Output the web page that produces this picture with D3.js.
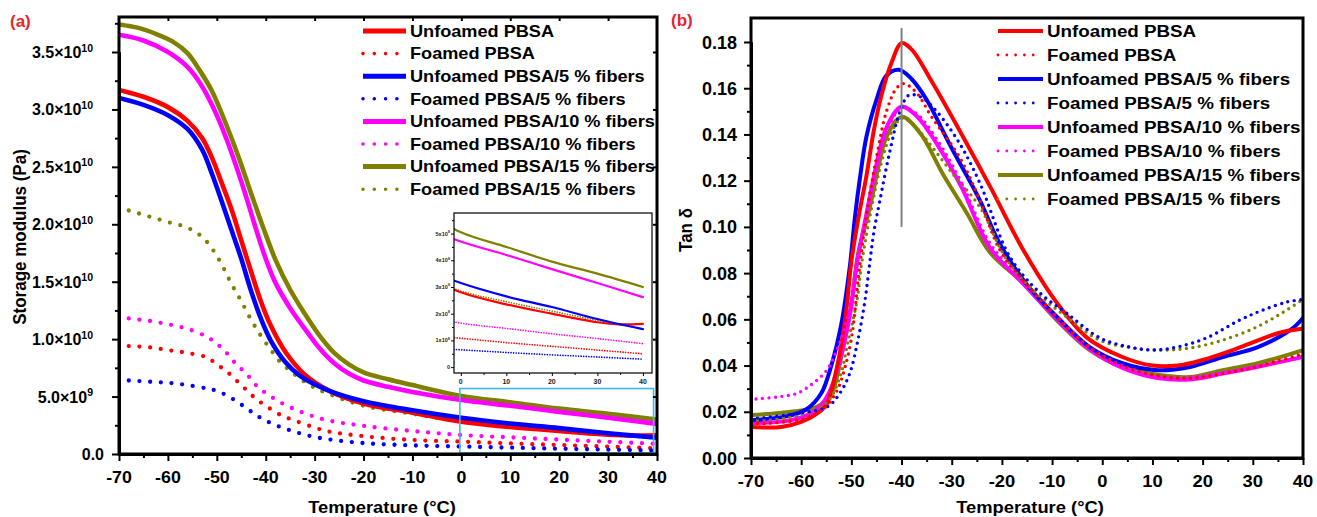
<!DOCTYPE html>
<html><head><meta charset="utf-8">
<script src="https://cdn.jsdelivr.net/npm/d3@7"></script>
<style>
body{margin:0;background:#fff}
svg{display:block}
text{font-family:"Liberation Sans",Arial,sans-serif;font-weight:bold;fill:#000}
</style>
</head><body>
<svg id="c" width="1317" height="517"></svg>
<script>
// ---------- shared series info ----------
const seriesNames = ["Unfoamed PBSA","Foamed PBSA","Unfoamed PBSA/5 % fibers","Foamed PBSA/5 % fibers",
  "Unfoamed PBSA/10 % fibers","Foamed PBSA/10 % fibers","Unfoamed PBSA/15 % fibers","Foamed PBSA/15 % fibers"];
const seriesColors = ["#ff0000","#ff0000","#0000ff","#0000ff","#ff00ff","#ff00ff","#808000","#808000"];
const seriesDotted = [false,true,false,true,false,true,false,true];

// ---------- panel (a): storage modulus, in units of 1e9 Pa ----------
const aT_unf   = [-70,-65,-60,-56,-53,-51,-49,-47,-45,-43,-41,-39,-36,-32,-27,-20,-10,0,10,20,30,35,40];
const aE_unf   = [31.7,31.1,30.2,29.0,27.5,25.8,23.6,21.3,18.6,15.9,13.3,11.2,8.9,6.9,5.5,4.4,3.6,2.8,2.35,2.0,1.68,1.6,1.62];
const aT_foam  = [-68,-64,-60,-56,-52,-50,-48,-46,-44,-42,-40,-37,-34,-30,-27,-20,-10,0,10,20,30,40];
const aE_foam  = [9.4,9.3,9.05,8.8,8.4,7.8,7.2,6.4,5.6,4.8,4.2,3.4,2.9,2.3,1.95,1.55,1.22,1.08,0.92,0.78,0.64,0.5];
const aT_unf5  = [-70,-65,-60,-56,-53,-51,-49,-47,-45,-43,-41,-39,-36,-33,-27,-20,-10,0,10,20,30,40];
const aE_unf5  = [31.0,30.4,29.5,28.3,26.5,24.4,22.0,19.5,17.0,14.2,11.8,9.9,8.0,6.8,5.5,4.6,3.8,3.15,2.65,2.25,1.8,1.42];
const aT_foam5 = [-68,-64,-60,-56,-52,-50,-48,-46,-44,-42,-40,-37,-33,-29,-20,-10,0,10,20,30,40];
const aE_foam5 = [6.4,6.3,6.2,6.0,5.7,5.5,5.1,4.6,4.0,3.4,2.9,2.35,1.8,1.4,0.95,0.75,0.65,0.55,0.46,0.38,0.3];
const aT_unf10 = [-70,-65,-60,-56,-53,-50,-48,-46,-44,-42,-40,-38,-35,-32,-29,-26,-23,-20,-15,-10,0,10,20,30,40];
const aE_unf10 = [36.5,36.0,35.0,33.7,32.0,29.5,27.4,25.0,22.4,19.6,17.0,14.9,12.7,10.9,9.2,7.9,7.0,6.4,5.85,5.4,4.7,4.2,3.67,3.15,2.62];
const aT_foam10= [-68,-64,-60,-56,-52,-50,-48,-46,-44,-42,-40,-37,-33,-28,-20,-10,0,10,20,30,40];
const aE_foam10= [11.8,11.6,11.3,10.9,10.2,9.6,8.8,7.8,7.0,6.0,5.3,4.5,3.7,3.0,2.45,2.0,1.65,1.45,1.25,1.07,0.88];
const aT_unf15 = [-70,-66,-62,-59,-56,-53.5,-51,-48,-45.5,-43,-40.5,-38,-35,-32,-29,-26,-23,-20,-15,-10,0,10,20,30,40];
const aE_unf15 = [37.4,37.1,36.5,35.9,34.9,33.4,31.6,28.6,25.8,22.7,19.7,16.9,14.3,12.2,10.3,8.8,7.8,7.1,6.5,6.0,5.05,4.5,3.95,3.5,3.0];
const aT_foam15= [-68,-64,-60,-56,-53,-51,-49,-47,-45,-43,-41,-39,-37,-34,-31,-27.5,-20,-10,0,10,20,30,40];
const aE_foam15= [21.2,20.7,20.2,19.7,18.9,17.9,16.5,14.8,13.3,11.7,10.3,9.1,8.0,6.9,6.0,5.3,4.2,3.5,2.85,2.45,2.1,1.75,1.42];

const aXTicks = [-70,-60,-50,-40,-30,-20,-10,0,10,20,30,40];
const aYTicks = [0,5e9,1e10,1.5e10,2e10,2.5e10,3e10,3.5e10];
const aYTickMant = ["0.0","5.0×10","1.0×10","1.5×10","2.0×10","2.5×10","3.0×10","3.5×10"];
const aYTickExp  = ["","9","10","10","10","10","10","10"];
const insetXTicks = [0,10,20,30,40];
const insetYTicks = [0,1e9,2e9,3e9,4e9,5e9];
const insetYTickMant = ["0","1x10","2x10","3x10","4x10","5x10"];
const insetYTickExp  = ["","9","9","9","9","9"];

// ---------- panel (b): tan delta ----------
const bT_unf   = [-70,-64,-60,-57,-55,-54,-53,-52,-51,-50,-48.5,-47,-45.5,-44,-42,-40,-38,-34,-28,-22,-16,-9,-3,4,10,15,20,25,30,35,40];
const bV_unf   = [0.0134,0.0134,0.0156,0.019,0.023,0.029,0.038,0.049,0.064,0.085,0.105,0.122,0.142,0.157,0.171,0.1795,0.1768,0.163,0.140,0.116,0.091,0.067,0.052,0.0437,0.040,0.040,0.0424,0.0459,0.050,0.054,0.056];
const bT_foam  = [-70,-66.8,-59.6,-55.7,-52.9,-51.3,-49.9,-48.5,-47,-45,-43,-41,-39.5,-37,-34,-28.4,-24.4,-20.4,-15.8,-10.4,-6.4,0,5,10,15,20,25,30,35,40];
const bV_foam  = [0.015,0.015,0.017,0.021,0.029,0.039,0.053,0.080,0.105,0.130,0.150,0.160,0.162,0.158,0.1476,0.130,0.1116,0.090,0.077,0.064,0.055,0.044,0.039,0.036,0.0345,0.035,0.037,0.039,0.042,0.045];
const bT_unf5  = [-70,-63,-59,-56,-54,-52,-50.3,-49.3,-48.3,-47,-45,-43,-40.5,-38,-35,-30,-24.5,-20.5,-15,-9,-2.5,4,11,17.5,24,31,37.5,40];
const bV_unf5  = [0.0164,0.018,0.021,0.028,0.040,0.058,0.083,0.104,0.121,0.139,0.155,0.1655,0.168,0.164,0.155,0.134,0.112,0.093,0.075,0.061,0.048,0.041,0.038,0.0394,0.0437,0.048,0.0554,0.0606];
const bT_foam5 = [-70,-68.2,-60.2,-54.9,-52.3,-50.3,-48.7,-47.3,-46.3,-45.5,-44.3,-42.3,-40.3,-38.5,-36,-33,-28.4,-24.4,-18.4,-12.4,-7.1,-0.5,5.5,10.1,14.9,20.8,27.4,32,36.8,40];
const bV_foam5 = [0.0173,0.0173,0.0195,0.022,0.028,0.0368,0.051,0.068,0.085,0.098,0.1116,0.133,0.150,0.157,0.156,0.150,0.136,0.119,0.087,0.0714,0.0627,0.052,0.048,0.0467,0.048,0.052,0.0597,0.064,0.0675,0.0686];
const bT_unf10 = [-70,-62,-58,-56,-54.3,-52.3,-50.3,-48.8,-46.5,-45,-43,-40,-37,-33,-28,-22.4,-16,-9,-2.5,4,11,17.5,24,31,40];
const bV_unf10 = [0.015,0.0164,0.0195,0.023,0.029,0.042,0.062,0.085,0.111,0.127,0.143,0.152,0.148,0.136,0.117,0.091,0.076,0.060,0.047,0.039,0.0346,0.034,0.0365,0.0395,0.0437];
const bT_foam10= [-69,-64.8,-60.8,-57.6,-54.9,-52.9,-51.3,-49.9,-48.9,-47,-45,-43,-40,-37,-33,-28,-22.4,-16,-9,-2.5,4,11,17.5,24,31,40];
const bV_foam10= [0.0255,0.0264,0.028,0.0324,0.038,0.0467,0.0567,0.071,0.0857,0.105,0.125,0.141,0.1515,0.149,0.138,0.119,0.093,0.077,0.061,0.048,0.040,0.0355,0.035,0.037,0.0395,0.044];
const bT_unf15 = [-70,-62,-57,-55,-53.7,-51.7,-50,-48.7,-46.3,-44.3,-43,-40,-36.3,-31.8,-27,-22.4,-15.8,-9.1,-2.5,4,11,17.5,24,31,40];
const bV_unf15 = [0.0186,0.020,0.022,0.025,0.029,0.047,0.066,0.088,0.1086,0.129,0.139,0.1476,0.1406,0.123,0.106,0.089,0.0757,0.0597,0.0467,0.0394,0.036,0.035,0.038,0.041,0.0467];
const bT_foam15= [-70,-68.2,-60.2,-54.9,-52.3,-50.7,-48.9,-47.9,-46,-44,-42,-40,-38,-35,-29.8,-24.4,-19,-13.8,-7.1,-0.5,6.1,12.1,17.5,24,30.8,36,40];
const bV_foam15= [0.0164,0.0164,0.0186,0.024,0.035,0.050,0.068,0.085,0.108,0.128,0.141,0.147,0.145,0.1376,0.123,0.1086,0.0857,0.0727,0.061,0.051,0.0476,0.0467,0.0476,0.051,0.0567,0.063,0.0686];

const bXTicks = [-70,-60,-50,-40,-30,-20,-10,0,10,20,30,40];
const bYTicks = [0,0.02,0.04,0.06,0.08,0.10,0.12,0.14,0.16,0.18];
const bYTickLabels = ["0.00","0.02","0.04","0.06","0.08","0.10","0.12","0.14","0.16","0.18"];
const bMarkerT = -40;
const bMarkerRange = [0.10, 0.186];

// ---------- build ----------
const svg = d3.select("#c");
const SX = 1.08;
function txt(g, x, y, s, size, anchor, fill, sx){
  return g.append("text").attr("transform",`translate(${x},${y}) scale(${sx||SX},1)`)
    .attr("text-anchor",anchor||"start").style("font-size",size+"px").style("fill",fill||"#000").text(s);
}
function zip(T,V,scale){ return T.map((t,i)=>[t,V[i]*(scale||1)]); }

const aSeries = [zip(aT_unf,aE_unf,1e9),zip(aT_foam,aE_foam,1e9),zip(aT_unf5,aE_unf5,1e9),zip(aT_foam5,aE_foam5,1e9),
  zip(aT_unf10,aE_unf10,1e9),zip(aT_foam10,aE_foam10,1e9),zip(aT_unf15,aE_unf15,1e9),zip(aT_foam15,aE_foam15,1e9)];
const bSeries = [zip(bT_unf,bV_unf),zip(bT_foam,bV_foam),zip(bT_unf5,bV_unf5),zip(bT_foam5,bV_foam5),
  zip(bT_unf10,bV_unf10),zip(bT_foam10,bV_foam10),zip(bT_unf15,bV_unf15),zip(bT_foam15,bV_foam15)];

const smooth = d3.curveCatmullRom.alpha(0.5);

function styleAxis(g, w){
  g.select(".domain").attr("stroke","#000").attr("stroke-width",w);
  g.selectAll(".tick line").attr("stroke","#000").attr("stroke-width",2);
}

// ===== Panel (a) =====
const xA = d3.scaleLinear([-70,40],[119,657]);
const yA = d3.scaleLinear([0,3.5e10],[454,52]);
const aTop = 17;
const gA = svg.append("g");
svg.append("clipPath").attr("id","clipA").append("rect")
  .attr("x",xA(-70)).attr("y",aTop).attr("width",xA(40)-xA(-70)).attr("height",yA(0)-aTop);

const lineA = d3.line().x(d=>xA(d[0])).y(d=>yA(d[1])).curve(smooth);
const curvesA = gA.append("g").attr("clip-path","url(#clipA)");
const orderA = [1,3,5,7,6,4,0,2];
orderA.forEach(i=>{
  const p = curvesA.append("path").datum(aSeries[i]).attr("d",lineA).attr("fill","none")
    .attr("stroke",seriesColors[i]).attr("stroke-linecap","round");
  if(seriesDotted[i]) p.attr("stroke-width",4.3).attr("stroke-dasharray","0 10.7");
  else p.attr("stroke-width",4.6);
});

gA.append("rect").attr("x",xA(0)-1.5).attr("y",yA(5.7e9)).attr("width",xA(39.3)-xA(0)+1.5)
  .attr("height",yA(0)-yA(5.7e9)-1).attr("fill","none").attr("stroke","#3cb8e8").attr("stroke-width",1.6);

gA.append("rect").attr("x",xA(-70)).attr("y",aTop).attr("width",xA(40)-xA(-70)).attr("height",yA(0)-aTop)
  .attr("fill","none").attr("stroke","#000").attr("stroke-width",3);

const axA = gA.append("g").attr("transform",`translate(0,${yA(0)})`)
  .call(d3.axisBottom(xA).tickValues(aXTicks).tickSize(7).tickSizeOuter(0).tickFormat(""));
styleAxis(axA,3);
const axAm = gA.append("g").attr("transform",`translate(0,${yA(0)})`)
  .call(d3.axisBottom(xA).tickValues(d3.range(-65,40,10)).tickSize(4).tickSizeOuter(0).tickFormat(""));
styleAxis(axAm,3);
const ayA = gA.append("g").attr("transform",`translate(${xA(-70)},0)`)
  .call(d3.axisLeft(yA).tickValues(aYTicks).tickSize(7).tickSizeOuter(0).tickFormat(""));
styleAxis(ayA,3);
const ayAm = gA.append("g").attr("transform",`translate(${xA(-70)},0)`)
  .call(d3.axisLeft(yA).tickValues(d3.range(2.5e9,3.8e10,5e9)).tickSize(4).tickSizeOuter(0).tickFormat(""));
styleAxis(ayAm,3);
gA.append("g").attr("transform",`translate(0,${aTop})`)
  .call(d3.axisBottom(xA).tickValues(aXTicks.slice(1,-1)).tickSize(4).tickSizeOuter(0).tickFormat(""))
  .call(g=>{g.select(".domain").remove(); g.selectAll(".tick line").attr("stroke","#000").attr("stroke-width",2);});
gA.append("g").attr("transform",`translate(${xA(40)},0)`)
  .call(d3.axisLeft(yA).tickValues(aYTicks.slice(1)).tickSize(4).tickSizeOuter(0).tickFormat(""))
  .call(g=>{g.select(".domain").remove(); g.selectAll(".tick line").attr("stroke","#000").attr("stroke-width",2);});

aXTicks.forEach(t=> txt(gA, xA(t), yA(0)+29, String(t), 16.5, "middle"));
aYTicks.forEach((v,i)=>{
  const endX = aYTickExp[i] ? xA(-70)-26 : xA(-70)-15;
  const t = gA.append("text").attr("transform",`translate(${endX},${yA(v)+6})`)
    .attr("text-anchor","end").style("font-size","16px");
  t.append("tspan").text(aYTickMant[i]);
  if(aYTickExp[i]) t.append("tspan").attr("dy",-6.5).style("font-size","10.5px").text(aYTickExp[i]);
});
txt(gA, 382, 513, "Temperature (°C)", 17, "middle");
gA.append("text").attr("transform",`translate(26,237) scale(1.08,1) rotate(-90)`).attr("text-anchor","middle")
  .style("font-size","17px").text("Storage modulus (Pa)");
txt(gA, 10, 27, "(a)", 17, "start", "#e8262b", 1.0);

seriesNames.forEach((n,i)=>{
  const y = 31 + i*22.6;
  const l = gA.append("line").attr("x1",363).attr("x2",406).attr("y1",y).attr("y2",y)
    .attr("stroke",seriesColors[i]).attr("stroke-linecap","round");
  if(seriesDotted[i]) l.attr("x2",399).attr("stroke-width",3.6).attr("stroke-dasharray","0 11.3");
  else l.attr("stroke-width",5).attr("stroke-linecap","butt");
  txt(gA, 410, y+5.8, n, 16.8, "start");
});

// ===== inset =====
const xI = d3.scaleLinear([-1.5,42],[454,652]);
const yI = d3.scaleLinear([-0.22e9,5.77e9],[373,213]);
const gI = svg.append("g");
gI.append("rect").attr("x",xI(-1.5)).attr("y",yI(5.77e9)).attr("width",xI(42)-xI(-1.5)).attr("height",yI(-0.22e9)-yI(5.77e9)).attr("fill","#fff");
svg.append("clipPath").attr("id","clipI").append("rect")
  .attr("x",xI(-1.5)).attr("y",yI(5.77e9)).attr("width",xI(42)-xI(-1.5)).attr("height",yI(-0.22e9)-yI(5.77e9));
const lineI = d3.line().x(d=>xI(d[0])).y(d=>yI(d[1])).curve(smooth);
const curvesI = gI.append("g").attr("clip-path","url(#clipI)");
orderA.forEach(i=>{
  const p = curvesI.append("path").datum(aSeries[i]).attr("d",lineI).attr("fill","none")
    .attr("stroke",seriesColors[i]).attr("stroke-linecap","round");
  if(seriesDotted[i]) p.attr("stroke-width",1.7).attr("stroke-dasharray","0 2.6");
  else p.attr("stroke-width",2.2);
});
gI.append("rect").attr("x",xI(-1.5)).attr("y",yI(5.77e9)).attr("width",xI(42)-xI(-1.5)).attr("height",yI(-0.22e9)-yI(5.77e9))
  .attr("fill","none").attr("stroke","#000").attr("stroke-width",1.2);
const axI = gI.append("g").attr("transform",`translate(0,${yI(-0.22e9)})`)
  .call(d3.axisBottom(xI).tickValues(insetXTicks).tickSize(3).tickSizeOuter(0).tickFormat(""));
axI.select(".domain").remove(); axI.selectAll(".tick line").attr("stroke","#000").attr("stroke-width",1);
const axIm = gI.append("g").attr("transform",`translate(0,${yI(-0.22e9)})`)
  .call(d3.axisBottom(xI).tickValues([5,15,25,35]).tickSize(2).tickSizeOuter(0).tickFormat(""));
axIm.select(".domain").remove(); axIm.selectAll(".tick line").attr("stroke","#000").attr("stroke-width",1);
const ayI = gI.append("g").attr("transform",`translate(${xI(-1.5)},0)`)
  .call(d3.axisLeft(yI).tickValues(insetYTicks).tickSize(3).tickSizeOuter(0).tickFormat(""));
ayI.select(".domain").remove(); ayI.selectAll(".tick line").attr("stroke","#000").attr("stroke-width",1);
const ayIm = gI.append("g").attr("transform",`translate(${xI(-1.5)},0)`)
  .call(d3.axisLeft(yI).tickValues([0.5e9,1.5e9,2.5e9,3.5e9,4.5e9,5.5e9]).tickSize(2).tickSizeOuter(0).tickFormat(""));
ayIm.select(".domain").remove(); ayIm.selectAll(".tick line").attr("stroke","#000").attr("stroke-width",1);
insetXTicks.forEach(t=> txt(gI, xI(t), yI(-0.22e9)+11, String(t), 7, "middle", "#222", 1));
insetYTicks.forEach((v,i)=>{
  const t = gI.append("text").attr("transform",`translate(${xI(-1.5)-4},${yI(v)+2})`)
    .attr("text-anchor","end").style("font-size","5.5px").style("fill","#222");
  t.append("tspan").text(insetYTickMant[i]);
  if(insetYTickExp[i]) t.append("tspan").attr("dy",-2.5).style("font-size","4px").text(insetYTickExp[i]);
});

// ===== Panel (b) =====
const xB = d3.scaleLinear([-70,40],[751,1303]);
const yB = d3.scaleLinear([0,0.18],[458,42]);
const bTop = 18;
const gB = svg.append("g");
svg.append("clipPath").attr("id","clipB").append("rect")
  .attr("x",xB(-70)).attr("y",bTop).attr("width",xB(40)-xB(-70)).attr("height",yB(0)-bTop);
const lineB = d3.line().x(d=>xB(d[0])).y(d=>yB(d[1])).curve(smooth);
const curvesB = gB.append("g").attr("clip-path","url(#clipB)");
const orderB = [6,4,2,0,7,5,3,1];
orderB.forEach(i=>{
  const p = curvesB.append("path").datum(bSeries[i]).attr("d",lineB).attr("fill","none")
    .attr("stroke",seriesColors[i]).attr("stroke-linecap","round");
  if(seriesDotted[i]) p.attr("stroke-width",3.4).attr("stroke-dasharray","0 6.5");
  else p.attr("stroke-width",4);
});
gB.append("line").attr("x1",xB(bMarkerT)).attr("x2",xB(bMarkerT)).attr("y1",yB(bMarkerRange[0])).attr("y2",yB(bMarkerRange[1]))
  .attr("stroke","#808080").attr("stroke-width",2);
gB.append("rect").attr("x",xB(-70)).attr("y",bTop).attr("width",xB(40)-xB(-70)).attr("height",yB(0)-bTop)
  .attr("fill","none").attr("stroke","#000").attr("stroke-width",3);
const axB = gB.append("g").attr("transform",`translate(0,${yB(0)})`)
  .call(d3.axisBottom(xB).tickValues(bXTicks).tickSize(7).tickSizeOuter(0).tickFormat(""));
styleAxis(axB,3);
const axBm = gB.append("g").attr("transform",`translate(0,${yB(0)})`)
  .call(d3.axisBottom(xB).tickValues(d3.range(-65,40,10)).tickSize(4).tickSizeOuter(0).tickFormat(""));
styleAxis(axBm,3);
const ayB = gB.append("g").attr("transform",`translate(${xB(-70)},0)`)
  .call(d3.axisLeft(yB).tickValues(bYTicks).tickSize(7).tickSizeOuter(0).tickFormat(""));
styleAxis(ayB,3);
const ayBm = gB.append("g").attr("transform",`translate(${xB(-70)},0)`)
  .call(d3.axisLeft(yB).tickValues(d3.range(0.01,0.19,0.02)).tickSize(4).tickSizeOuter(0).tickFormat(""));
styleAxis(ayBm,3);
bXTicks.forEach(t=> txt(gB, xB(t), yB(0)+29, String(t), 17, "middle"));
bYTicks.forEach((v,i)=> txt(gB, xB(-70)-14, yB(v)+6.5, bYTickLabels[i], 18, "end", "#000", 1.0));
txt(gB, 1030, 513, "Temperature (°C)", 17, "middle");
gB.append("text").attr("transform",`translate(692,230) scale(1.08,1) rotate(-90)`).attr("text-anchor","middle")
  .style("font-size","17px").text("Tan δ");
txt(gB, 671, 26, "(b)", 17, "start", "#e8262b", 1.0);

seriesNames.forEach((n,i)=>{
  const y = 31 + i*24;
  const l = gB.append("line").attr("x1",998).attr("x2",1043).attr("y1",y).attr("y2",y)
    .attr("stroke",seriesColors[i]);
  if(seriesDotted[i]) l.attr("x2",1034).attr("stroke-width",2.8).attr("stroke-linecap","round").attr("stroke-dasharray","0 8.8");
  else l.attr("stroke-width",4);
  txt(gB, 1047, y+6, n, 17.4, "start");
});
</script>
</body></html>
